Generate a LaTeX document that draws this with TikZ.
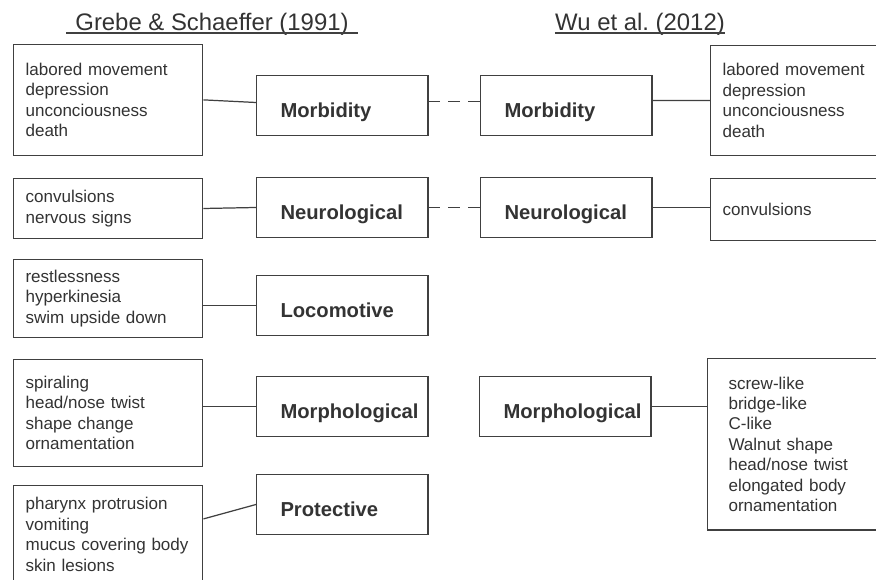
\documentclass[tikz,border=0pt]{standalone}
\usepackage{fontspec}
\setmainfont{Liberation Sans}

\begin{document}
\begin{tikzpicture}[x=0.02cm, y=-0.02cm,
    every node/.style={text=black!80},
    title/.style={font=\fontsize{13.6}{16}\selectfont, anchor=base, inner ysep=0pt},
    listbox/.style={draw=black!75, line width=0.7pt, anchor=north west, align=left,
      text width=94.1pt, inner xsep=6.8pt, inner ysep=0pt,
      font=\fontsize{9.7}{11.6}\selectfont},
    catbox/.style={draw=black!75, line width=0.7pt, anchor=north west, align=left,
      text width=97.5pt, inner sep=0pt, text height=23.8pt, text depth=10.2pt,
      font=\fontsize{11.5}{13}\bfseries\selectfont},
    link/.style={draw=black!75, line width=0.7pt},
    simlink/.style={link, dash pattern=on 6.8pt off 4.5pt}]
    \clip (0,0) rectangle (876,579);
    \fill[white] (0,0) rectangle (876,579);
    % Titles
    \node[title, inner xsep=5.1pt] (gs) at (212,30) {Grebe \& Schaeffer (1991)};
    \node[title, inner xsep=0pt] (wu) at (640,30) {Wu et al.\ (2012)};
    \draw[link] ([yshift=-1.7pt]gs.base west) -- ([yshift=-1.7pt]gs.base east);
    \draw[link] ([yshift=-1.7pt]wu.base west) -- ([yshift=-1.7pt]wu.base east);
    % Grebe & Schaeffer: symptom lists
    \node[listbox, minimum height=62.9pt] (lmorlist) at (13,44) {labored movement\\depression\\unconciousness\\death};
    \node[listbox, minimum height=34pt] (lneulist) at (13,178) {convulsions\\nervous signs};
    \node[listbox, minimum height=44.2pt] (locolist) at (13,259) {restlessness\\hyperkinesia\\swim upside down};
    \node[listbox, minimum height=60.7pt] (lmorphlist) at (13,359) {spiraling\\head/nose twist\\shape change\\ornamentation};
    \node[listbox, minimum height=55.5pt] (protlist) at (13,485) {pharynx protrusion\\vomiting\\mucus covering body\\skin lesions};
    % Grebe & Schaeffer: categories
    \node[catbox] (lmor) at (256,75) {\hspace*{13.6pt}Morbidity};
    \node[catbox] (lneu) at (256,177) {\hspace*{13.6pt}Neurological};
    \node[catbox] (loco) at (256,275) {\hspace*{13.6pt}Locomotive};
    \node[catbox] (lmorph) at (256,376) {\hspace*{13.6pt}Morphological};
    \node[catbox] (prot) at (256,474) {\hspace*{13.6pt}Protective};
    % Wu et al.: categories
    \node[catbox] (rmor) at (480,75) {\hspace*{13.6pt}Morbidity};
    \node[catbox] (rneu) at (480,177) {\hspace*{13.6pt}Neurological};
    \node[catbox] (rmorph) at (479,376) {\hspace*{13.6pt}Morphological};
    % Wu et al.: symptom lists
    \node[listbox, text width=110pt, minimum height=62.4pt] (rmorlist) at (710,45) {labored movement\\depression\\unconciousness\\death};
    \node[listbox, text width=110pt, minimum height=35.1pt] (rneulist) at (710,178) {convulsions};
    \node[listbox, text width=110pt, minimum height=97.5pt, inner xsep=11.9pt] (rmorphlist) at (707,358) {screw-like\\bridge-like\\C-like\\Walnut shape\\head/nose twist\\elongated body\\ornamentation};
    % Links
    \draw[link] (lmorlist.east) -- ([yshift=1.7pt]lmor.west);
    \draw[link] (lneulist.east) -- (lneu.west);
    \draw[link] (loco.west -| locolist.east) -- (loco.west);
    \draw[link] (lmorph.west -| lmorphlist.east) -- (lmorph.west);
    \draw[link] ([yshift=8.8pt]protlist.east) -- (prot.west);
    \draw[simlink] ([yshift=2.3pt]lmor.east) -- ([yshift=2.3pt]rmor.west);
    \draw[simlink] (lneu.east) -- (rneu.west);
    \draw[link] ([yshift=2.8pt]rmor.east) -- (rmorlist.west);
    \draw[link] (rneu.east) -- (rneu.east -| rneulist.west);
    \draw[link] (rmorph.east) -- (rmorph.east -| rmorphlist.west);
\end{tikzpicture}
\end{document}
